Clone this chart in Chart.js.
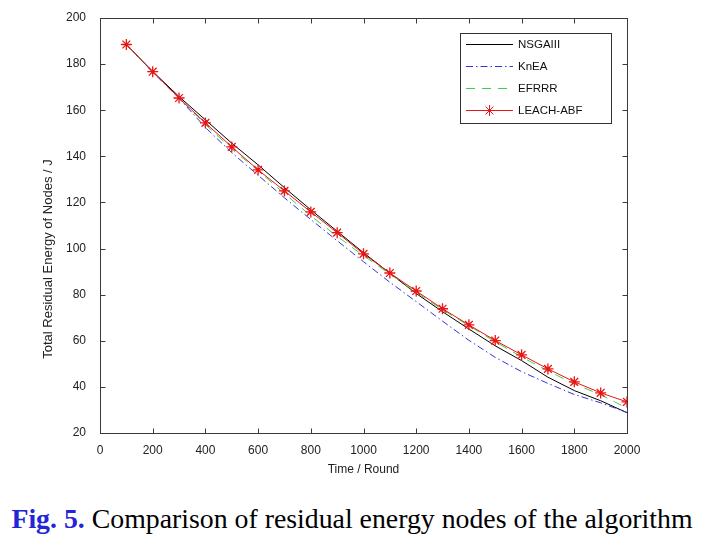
<!DOCTYPE html>
<html><head><meta charset="utf-8">
<script src="https://cdn.jsdelivr.net/npm/chart.js@4/dist/chart.umd.min.js"></script>
<style>
html,body{margin:0;padding:0;background:#fff;width:714px;height:538px;overflow:hidden}
#wrap{position:absolute;left:0;top:0;width:714px;height:490px}
#cap{position:absolute;left:-5px;top:503px;width:714px;text-align:center;font-family:"Liberation Serif","Times New Roman",serif;font-size:27.8px;line-height:32px;color:#000;white-space:nowrap}
#cap b{color:#2424d8}
</style></head><body>
<div id="wrap"><canvas id="c" width="714" height="490"></canvas></div>
<div id="cap"><b>Fig. 5.</b> Comparison of residual energy nodes of the algorithm</div>
<script>
// ---- data ----
const rounds = [100,200,300,400,500,600,700,800,900,1000,1100,1200,1300,1400,1500,1600,1700,1800,1900,2000];
const nsgaiii  = [188.5,176.8,165.9,155.8,145.7,136.3,126.4,116.8,107.5,98.2,89.3,80.5,72.6,65.1,57.8,51.4,44.2,38.4,34.0,28.8];
const knea     = [188.5,176.5,165.2,152.5,141.6,131.8,122.0,112.6,103.4,94.3,85.4,77.0,68.5,60.2,52.8,46.6,41.5,36.7,33.1,28.9];
const efrrr    = [188.5,176.6,165.3,153.8,143.2,133.8,123.8,114.2,105.3,96.9,89.0,81.0,73.5,66.5,59.6,53.0,46.9,41.3,36.6,30.8];
const leachAbf = [188.5,176.7,165.3,154.5,144.1,134.1,125.0,115.9,106.9,97.7,89.4,81.6,73.9,66.9,60.1,53.9,47.8,42.2,37.4,33.5];
const seriesNames = ['NSGAIII','KnEA','EFRRR','LEACH-ABF'];
const xTickValues = [0,200,400,600,800,1000,1200,1400,1600,1800,2000];
const yTickValues = [20,40,60,80,100,120,140,160,180,200];
const xTitle = 'Time / Round';
const yTitle = 'Total Residual Energy of Nodes / J';

const pts = arr => rounds.map((r,i)=>({x:r,y:arr[i]}));

Chart.defaults.font.family = '"Liberation Sans", Arial, sans-serif';
Chart.defaults.color = '#222';

const styles = [
  {borderColor:'#000000', borderDash:[], pointStyle:false},
  {borderColor:'rgb(52,52,215)', borderDash:[7,3,1.5,3], pointStyle:false},
  {borderColor:'rgb(70,205,70)', borderDash:[9,7], pointStyle:false},
  {borderColor:'rgb(235,20,20)', borderDash:[], pointStyle:'star'}
];
const seriesData = [nsgaiii, knea, efrrr, leachAbf];

const datasets = seriesData.map((arr,i)=>({
  label: seriesNames[i],
  data: pts(arr),
  borderColor: styles[i].borderColor,
  backgroundColor: styles[i].borderColor,
  borderDash: styles[i].borderDash,
  borderWidth: 1,
  tension: 0,
  fill: false,
  order: 3 - i,
  pointStyle: styles[i].pointStyle || 'circle',
  pointRadius: styles[i].pointStyle ? 5.5 : 0,
  pointBorderColor: styles[i].borderColor,
  pointBorderWidth: 1.3
}));

const frame = {
  id:'frame',
  beforeDatasetsDraw(chart){
    const {ctx, chartArea:a, scales:{x,y}} = chart;
    ctx.save();
    ctx.strokeStyle='#3a3a3a'; ctx.lineWidth=1; ctx.setLineDash([]);
    const L=Math.round(a.left)+0.5, R=Math.round(a.right)+0.5, T=Math.round(a.top)+0.5, B=Math.round(a.bottom)+0.5;
    ctx.strokeRect(L,T,R-L,B-T);
    ctx.beginPath();
    x.ticks.forEach(t=>{const p=Math.round(x.getPixelForValue(t.value))+0.5; ctx.moveTo(p,B); ctx.lineTo(p,B-5); ctx.moveTo(p,T); ctx.lineTo(p,T+5);});
    y.ticks.forEach(t=>{const p=Math.round(y.getPixelForValue(t.value))+0.5; ctx.moveTo(L,p); ctx.lineTo(L+5,p); ctx.moveTo(R,p); ctx.lineTo(R-5,p);});
    ctx.stroke();
    // y title
    ctx.fillStyle='#222'; ctx.font='13px "Liberation Sans", Arial, sans-serif';
    ctx.textAlign='center'; ctx.textBaseline='middle';
    ctx.translate(48, 259); ctx.rotate(-Math.PI/2);
    ctx.fillText(yTitle,0,0);
    ctx.restore();
  }
};

const legendBox = {
  id:'legendBox',
  afterDatasetsDraw(chart){
    const {ctx} = chart;
    const bx=460.5, by=33.5, bw=151, bh=90;
    ctx.save();
    ctx.fillStyle='#fff'; ctx.fillRect(bx,by,bw,bh);
    ctx.strokeStyle='#333'; ctx.lineWidth=1; ctx.strokeRect(bx,by,bw,bh);
    ctx.font='11.5px "Liberation Sans", Arial, sans-serif'; ctx.textAlign='left'; ctx.textBaseline='middle';
    seriesNames.forEach((name,i)=>{
      const ry = Math.round(44 + i*22)+0.5;
      const s = styles[i];
      ctx.strokeStyle=s.borderColor; ctx.lineWidth=1; ctx.setLineDash(s.borderDash);
      ctx.beginPath(); ctx.moveTo(466,ry); ctx.lineTo(513,ry); ctx.stroke();
      ctx.setLineDash([]);
      if(s.pointStyle){
        Chart.helpers.drawPoint(ctx,{pointStyle:'star',radius:5.5,rotation:0,borderWidth:1.3},489.5,ry);
      }
      ctx.fillStyle='#111'; ctx.fillText(name,518,ry);
    });
    ctx.restore();
  }
};

const hiddenTicks = {display:true, drawOnChartArea:false, drawTicks:true, color:'rgba(0,0,0,0)'};

new Chart(document.getElementById('c'),{
  type:'line',
  data:{datasets},
  options:{
    responsive:false, animation:false, devicePixelRatio:1,
    layout:{padding:{left:0,right:87,top:18,bottom:0}},
    plugins:{legend:{display:false},tooltip:{enabled:false}},
    scales:{
      x:{type:'linear',min:0,max:2000,
        afterBuildTicks:s=>{s.ticks=xTickValues.map(v=>({value:v}));},
        afterFit:s=>{s.height=57;},
        grid:Object.assign({tickLength:10},hiddenTicks),border:{display:false},
        ticks:{font:{size:12},color:'#222',padding:0,maxRotation:0,callback:v=>String(v)},
        title:{display:true,text:xTitle,font:{size:12},color:'#222',padding:{top:0,bottom:13}}
      },
      y:{type:'linear',min:20,max:200,
        afterBuildTicks:s=>{s.ticks=yTickValues.map(v=>({value:v}));},
        afterFit:s=>{s.width=100;},
        grid:Object.assign({tickLength:14},hiddenTicks),border:{display:false},
        ticks:{font:{size:12},color:'#222',padding:0,callback:v=>String(v)}
      }
    }
  },
  plugins:[frame,legendBox]
});
</script>
</body></html>
